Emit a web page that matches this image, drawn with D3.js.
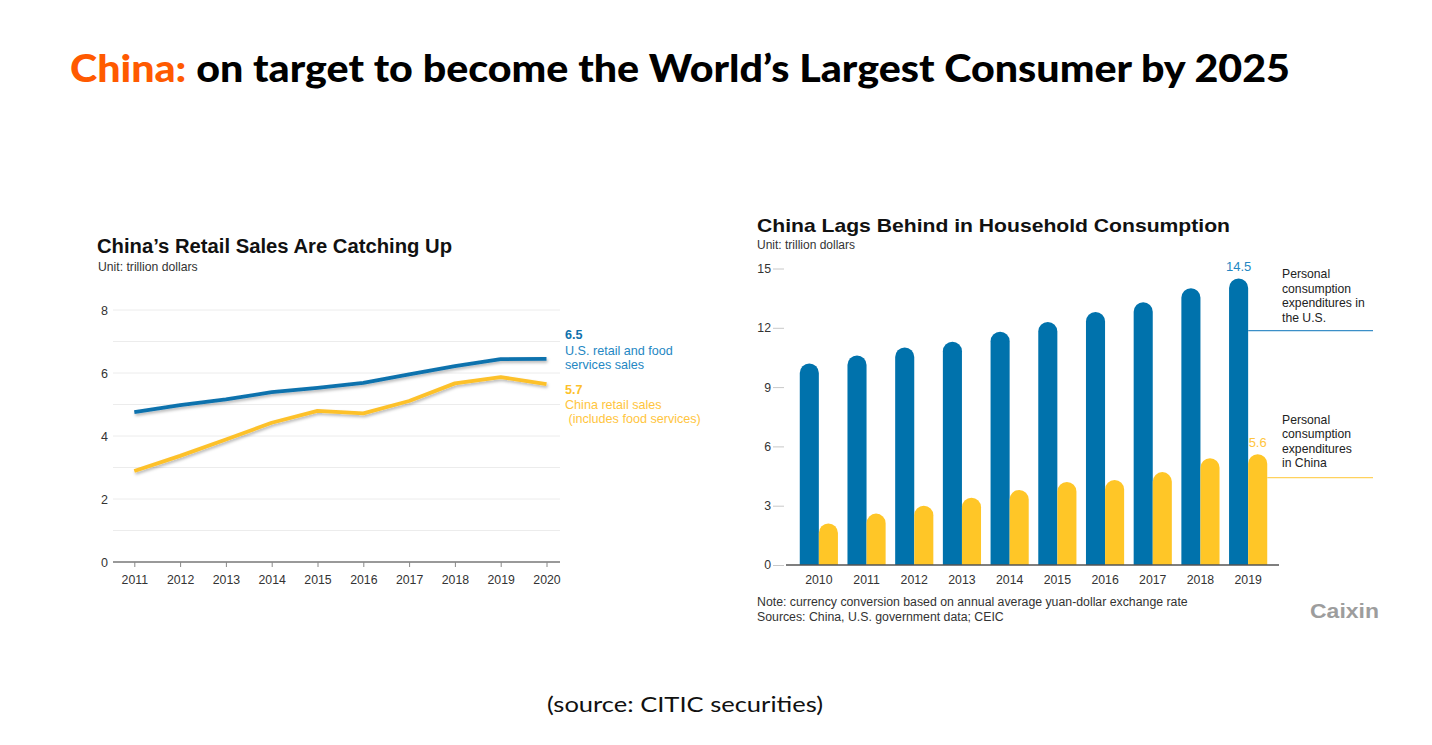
<!DOCTYPE html>
<html>
<head>
<meta charset="utf-8">
<script src="https://cdn.jsdelivr.net/npm/d3@7"></script>
<style>
  html, body { margin: 0; padding: 0; background: #fff; }
  svg { display: block; }
</style>
</head>
<body>
<svg id="chart" width="1432" height="745"></svg>
<script>
// ---------- DATA ----------
const retailYears = ["2011","2012","2013","2014","2015","2016","2017","2018","2019","2020"];
const usRetail    = [4.76, 4.98, 5.16, 5.39, 5.53, 5.69, 5.96, 6.22, 6.44, 6.45];
const chinaRetail = [2.89, 3.37, 3.89, 4.42, 4.80, 4.72, 5.11, 5.67, 5.87, 5.65];
const retailTicks = [0, 2, 4, 6, 8];

const consYears   = ["2010","2011","2012","2013","2014","2015","2016","2017","2018","2019"];
const usCons      = [10.2, 10.6, 11.0, 11.3, 11.8, 12.3, 12.8, 13.3, 14.0, 14.5];
const chinaCons   = [2.1, 2.6, 3.0, 3.4, 3.8, 4.2, 4.3, 4.7, 5.4, 5.6];
const consTicks   = [0, 3, 6, 9, 12, 15];

// ---------- STYLE ----------
const BLUE = "#0F72AD", BLUE_TXT = "#2487C3", YEL = "#FDC12B", YEL_TXT = "#FFC53D";
const BAR_BLUE = "#0072AC", BAR_YEL = "#FFC627";
const SANS = "'Liberation Sans', Arial, sans-serif";
const svg = d3.select("#chart");

const defs = svg.append("defs");
const f = defs.append("filter").attr("id","shadow").attr("x","-5%").attr("y","-20%").attr("width","110%").attr("height","160%");
f.append("feDropShadow").attr("dx",1).attr("dy",2).attr("stdDeviation",1.4).attr("flood-color","#000").attr("flood-opacity",0.28);

// ---------- MAIN TITLE ----------
const title = svg.append("text").attr("x", 70).attr("y", 82)
  .attr("font-family", "Lato, 'Open Sans', sans-serif").attr("font-weight", 900).attr("font-size", 38)
  .attr("textLength", 1220).attr("lengthAdjust", "spacingAndGlyphs");
title.append("tspan").attr("fill", "#FF5A00").text("China:");
title.append("tspan").attr("fill", "#000").text(" on target to become the World\u2019s Largest Consumer by 2025");

svg.append("text").attr("x", 685).attr("y", 712).attr("text-anchor", "middle")
  .attr("font-family", "Lato, 'Open Sans', sans-serif").attr("font-size", 22).attr("fill", "#111")
  .attr("textLength", 276).attr("lengthAdjust", "spacingAndGlyphs")
  .text("(source: CITIC securities)");

// ---------- LEFT CHART ----------
const L = svg.append("g");
L.append("text").attr("x", 97).attr("y", 253).attr("font-family", SANS).attr("font-weight", "bold")
  .attr("font-size", 19.5).attr("fill", "#111").attr("textLength", 355).attr("lengthAdjust","spacingAndGlyphs")
  .text("China\u2019s Retail Sales Are Catching Up");
L.append("text").attr("x", 98).attr("y", 271).attr("font-family", SANS).attr("font-size", 12.2).attr("fill", "#333")
  .text("Unit: trillion dollars");

const xL = d3.scalePoint().domain(retailYears).range([134.3, 546.5]);
const yL = d3.scaleLinear().domain([0, 8]).range([562, 310]);

// grid every 1
L.append("g").selectAll("line").data(d3.range(1, 9)).join("line")
  .attr("x1", 113).attr("x2", 560).attr("y1", d => yL(d)).attr("y2", d => yL(d))
  .attr("stroke", "#ececec").attr("stroke-width", 1);

// y axis labels
const yAxL = L.append("g").attr("transform", "translate(113,0)")
  .call(d3.axisLeft(yL).tickValues(retailTicks).tickSize(0).tickPadding(5));
yAxL.select(".domain").remove();
yAxL.selectAll("text").attr("font-family", SANS).attr("font-size", 12.5).attr("fill", "#333");

// x axis
const xAxL = L.append("g").attr("transform", `translate(0,${yL(0)})`)
  .call(d3.axisBottom(xL).tickSize(5).tickPadding(8));
xAxL.select(".domain").attr("d", "M113,0H560").attr("stroke", "#777").attr("stroke-width", 1.3);
xAxL.selectAll(".tick line").attr("stroke", "#888");
xAxL.selectAll("text").attr("font-family", SANS).attr("font-size", 12.3).attr("fill", "#333");

const line = d3.line().x((d, i) => xL(retailYears[i])).y(d => yL(d));
L.append("path").datum(chinaRetail).attr("d", line).attr("fill", "none")
  .attr("stroke", YEL).attr("stroke-width", 3.8).attr("stroke-linejoin", "round").attr("filter", "url(#shadow)");
L.append("path").datum(usRetail).attr("d", line).attr("fill", "none")
  .attr("stroke", BLUE).attr("stroke-width", 3.8).attr("stroke-linejoin", "round").attr("filter", "url(#shadow)");

// line labels
const lblL = [
  {t: "6.5", y: 339, c: BLUE, b: true},
  {t: "U.S. retail and food", y: 355, c: BLUE_TXT},
  {t: "services sales", y: 369, c: BLUE_TXT},
  {t: "5.7", y: 394, c: YEL, b: true},
  {t: "China retail sales", y: 408.5, c: YEL_TXT},
  {t: "\u00a0(includes food services)", y: 423, c: YEL_TXT}
];
L.append("g").selectAll("text").data(lblL).join("text")
  .attr("x", 565).attr("y", d => d.y).attr("font-family", SANS).attr("font-size", 12.6)
  .attr("font-weight", d => d.b ? "bold" : "normal").attr("fill", d => d.c).text(d => d.t);

// ---------- RIGHT CHART ----------
const R = svg.append("g");
R.append("text").attr("x", 757).attr("y", 232).attr("font-family", SANS).attr("font-weight", "bold")
  .attr("font-size", 19).attr("fill", "#111").attr("textLength", 473).attr("lengthAdjust","spacingAndGlyphs")
  .text("China Lags Behind in Household Consumption");
R.append("text").attr("x", 757).attr("y", 249).attr("font-family", SANS).attr("font-size", 12).attr("fill", "#333")
  .text("Unit: trillion dollars");

const xR = d3.scaleBand().domain(consYears).range([795, 1272]).paddingInner(0.2).paddingOuter(0.1);
const yR = d3.scaleLinear().domain([0, 15]).range([565, 268.5]);
const bw = xR.bandwidth() / 2;

const yAxR = R.append("g").attr("transform", "translate(784,0)")
  .call(d3.axisLeft(yR).tickValues(consTicks).tickSize(11).tickPadding(2));
yAxR.select(".domain").remove();
yAxR.selectAll(".tick line").attr("stroke", "#c8c8c8");
yAxR.selectAll("text").attr("font-family", SANS).attr("font-size", 12.3).attr("fill", "#333");

function roundTop(x, w, y0, y1) {
  const r = w / 2;
  return `M${x},${y0}V${y1 + r}A${r},${r} 0 0 1 ${x + w},${y1 + r}V${y0}Z`;
}
R.append("g").selectAll("path").data(usCons).join("path")
  .attr("d", (d, i) => roundTop(xR(consYears[i]), bw, yR(0), yR(d))).attr("fill", BAR_BLUE);
R.append("g").selectAll("path").data(chinaCons).join("path")
  .attr("d", (d, i) => roundTop(xR(consYears[i]) + bw, bw, yR(0), yR(d))).attr("fill", BAR_YEL);

const xAxR = R.append("g").attr("transform", `translate(0,${yR(0)})`)
  .call(d3.axisBottom(xR).tickSize(0).tickPadding(10));
xAxR.select(".domain").attr("d", "M786,0H1279").attr("stroke", "#555").attr("stroke-width", 1.5);
xAxR.selectAll("text").attr("font-family", SANS).attr("font-size", 12.3).attr("fill", "#333");

// value labels
const last = consYears.length - 1;
R.append("text").attr("x", xR(consYears[last]) + bw / 2).attr("y", yR(usCons[last]) - 7)
  .attr("text-anchor", "middle").attr("font-family", SANS).attr("font-size", 13).attr("fill", BLUE_TXT)
  .text(usCons[last].toFixed(1));
R.append("text").attr("x", xR(consYears[last]) + bw * 1.5).attr("y", yR(chinaCons[last]) - 7)
  .attr("text-anchor", "middle").attr("font-family", SANS).attr("font-size", 13).attr("fill", YEL_TXT)
  .text(chinaCons[last].toFixed(1));

// leader lines
R.append("line").attr("x1", xR(consYears[last]) + bw).attr("x2", 1373).attr("y1", 330.7).attr("y2", 330.7)
  .attr("stroke", "#3B8FC8").attr("stroke-width", 1.2);
R.append("line").attr("x1", xR(consYears[last]) + 2 * bw).attr("x2", 1373).attr("y1", 477.7).attr("y2", 477.7)
  .attr("stroke", "#FFD25E").attr("stroke-width", 1.2);

const usLegend = ["Personal", "consumption", "expenditures in", "the U.S."];
const cnLegend = ["Personal", "consumption", "expenditures", "in China"];
R.append("g").selectAll("text").data(usLegend).join("text")
  .attr("x", 1282).attr("y", (d, i) => 278 + i * 14.5).attr("font-family", SANS).attr("font-size", 12.2)
  .attr("fill", "#222").text(d => d);
R.append("g").selectAll("text").data(cnLegend).join("text")
  .attr("x", 1282).attr("y", (d, i) => 424 + i * 14.3).attr("font-family", SANS).attr("font-size", 12.2)
  .attr("fill", "#222").text(d => d);

// notes
R.append("text").attr("x", 757).attr("y", 606).attr("font-family", SANS).attr("font-size", 12.3).attr("fill", "#333")
  .text("Note: currency conversion based on annual average yuan-dollar exchange rate");
R.append("text").attr("x", 757).attr("y", 620.5).attr("font-family", SANS).attr("font-size", 12.3).attr("fill", "#333")
  .text("Sources: China, U.S. government data; CEIC");

R.append("text").attr("x", 1310).attr("y", 617.5).attr("font-family", SANS).attr("font-weight", "bold")
  .attr("font-size", 20.5).attr("fill", "#9d9d9d").attr("textLength", 69).attr("lengthAdjust","spacingAndGlyphs")
  .text("Caixin");
</script>
</body>
</html>
